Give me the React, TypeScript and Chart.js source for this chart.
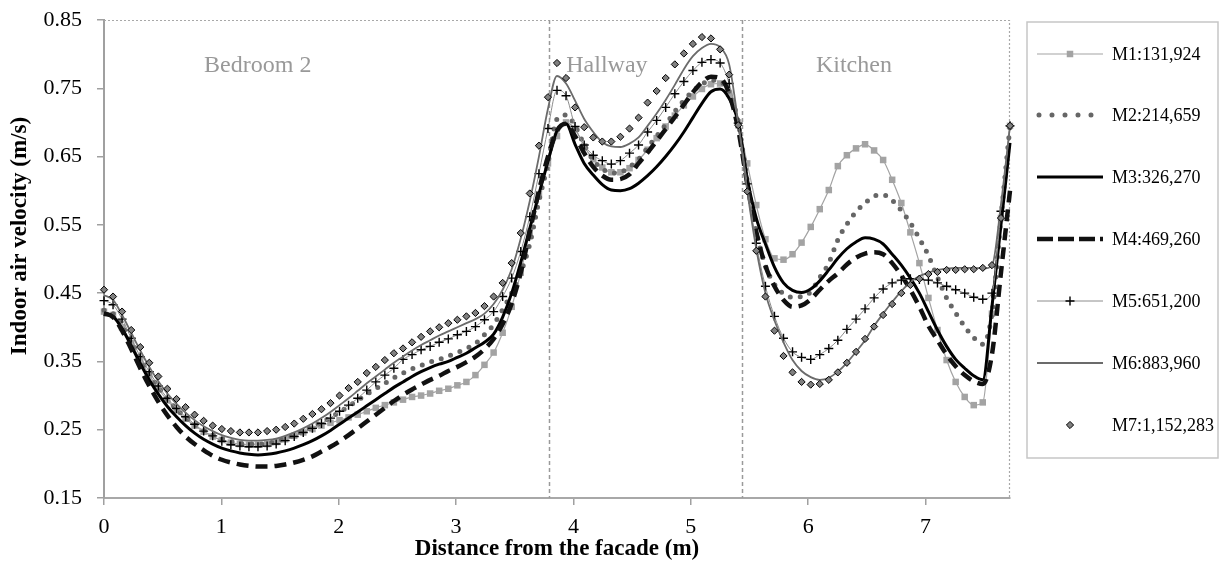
import React, { useEffect, useRef } from 'react';
import { Chart, registerables } from 'chart.js';

Chart.register(...registerables);

// Sampling positions along the section (m)
const distance = [
  0, 0.077, 0.154, 0.232, 0.309, 0.386, 0.463, 0.54, 0.618, 0.695,
  0.772, 0.849, 0.926, 1.004, 1.081, 1.158, 1.235, 1.312, 1.39, 1.467,
  1.544, 1.621, 1.698, 1.776, 1.853, 1.93, 2.007, 2.084, 2.162, 2.239,
  2.316, 2.393, 2.47, 2.548, 2.625, 2.702, 2.779, 2.856, 2.934, 3.011,
  3.088, 3.165, 3.242, 3.32, 3.397, 3.474, 3.551, 3.628, 3.706, 3.783,
  3.86, 3.937, 4.014, 4.092, 4.169, 4.246, 4.323, 4.4, 4.478, 4.555,
  4.632, 4.709, 4.786, 4.864, 4.941, 5.018, 5.095, 5.172, 5.25, 5.327,
  5.404, 5.481, 5.558, 5.636, 5.713, 5.79, 5.867, 5.944, 6.022, 6.099,
  6.176, 6.253, 6.33, 6.408, 6.485, 6.562, 6.639, 6.716, 6.794, 6.871,
  6.948, 7.025, 7.102, 7.18, 7.257, 7.334, 7.411, 7.488, 7.566, 7.643,
  7.72,
];

const m1 = [
  0.423, 0.418, 0.4, 0.377, 0.352, 0.33, 0.31, 0.293, 0.278, 0.266,
  0.256, 0.247, 0.24, 0.235, 0.231, 0.229, 0.228, 0.228, 0.229, 0.232,
  0.236, 0.241, 0.246, 0.251, 0.256, 0.26, 0.264, 0.268, 0.272, 0.277,
  0.282, 0.286, 0.29, 0.294, 0.298, 0.3, 0.303, 0.307, 0.31, 0.315,
  0.32, 0.33, 0.345, 0.363, 0.392, 0.43, 0.48, 0.54, 0.595, 0.64,
  0.68, 0.7, 0.69, 0.665, 0.646, 0.634, 0.627, 0.627, 0.633, 0.645,
  0.66, 0.677, 0.694, 0.71, 0.725, 0.738, 0.749, 0.756, 0.757, 0.742,
  0.7, 0.64, 0.579, 0.529, 0.501, 0.499, 0.507, 0.524, 0.547, 0.573,
  0.601, 0.636, 0.652, 0.662, 0.668, 0.659, 0.645, 0.616, 0.582, 0.539,
  0.494, 0.443, 0.396, 0.352, 0.32, 0.298, 0.286, 0.29, 0.42, 0.56,
  0.695,
];

const m2 = [
  0.425, 0.42, 0.402, 0.379, 0.354, 0.332, 0.312, 0.295, 0.28, 0.268,
  0.258, 0.249, 0.242, 0.237, 0.233, 0.23, 0.229, 0.229, 0.23, 0.233,
  0.237, 0.242, 0.248, 0.254, 0.261, 0.268, 0.276, 0.284, 0.293, 0.302,
  0.31, 0.318, 0.326, 0.333, 0.339, 0.344, 0.349, 0.353, 0.358, 0.363,
  0.369, 0.376, 0.389, 0.404, 0.426, 0.45, 0.48, 0.522, 0.585, 0.64,
  0.705, 0.711, 0.695, 0.667, 0.645, 0.632, 0.626, 0.627, 0.635, 0.646,
  0.663, 0.68, 0.697, 0.716, 0.732, 0.746, 0.756, 0.762, 0.76, 0.745,
  0.7, 0.615, 0.54, 0.49, 0.463, 0.449, 0.444, 0.445, 0.452, 0.473,
  0.494, 0.528, 0.551, 0.569, 0.582, 0.592, 0.594, 0.586, 0.571, 0.553,
  0.53, 0.505, 0.473, 0.443, 0.421, 0.401, 0.385, 0.375, 0.42, 0.56,
  0.695,
];

const m3 = [
  0.421, 0.416, 0.398, 0.373, 0.347, 0.323, 0.302, 0.284, 0.269, 0.256,
  0.245, 0.236, 0.229, 0.223, 0.219, 0.216, 0.214, 0.213, 0.214, 0.216,
  0.219, 0.223, 0.228, 0.234, 0.241, 0.249, 0.258, 0.267, 0.276, 0.285,
  0.294, 0.303, 0.312, 0.32, 0.328, 0.335, 0.341, 0.346, 0.35, 0.356,
  0.362, 0.37, 0.378, 0.39, 0.415, 0.45, 0.495, 0.545, 0.595, 0.643,
  0.688, 0.698, 0.668, 0.64, 0.623, 0.609, 0.601, 0.6, 0.603, 0.611,
  0.622, 0.635, 0.65, 0.667, 0.686, 0.707, 0.728, 0.745, 0.749, 0.735,
  0.7, 0.618, 0.56, 0.522, 0.488, 0.465, 0.454, 0.451, 0.456, 0.468,
  0.484, 0.501, 0.515, 0.525, 0.531, 0.529, 0.522, 0.507, 0.491, 0.472,
  0.45, 0.423, 0.396, 0.372, 0.353, 0.34, 0.329, 0.323, 0.43, 0.55,
  0.67,
];

const m4 = [
  0.42, 0.415, 0.395, 0.368, 0.34, 0.314, 0.291, 0.271, 0.254, 0.24,
  0.229, 0.22, 0.212, 0.206, 0.202, 0.199, 0.197, 0.196, 0.196, 0.197,
  0.199, 0.202, 0.206, 0.211, 0.218, 0.225, 0.233, 0.242, 0.252, 0.262,
  0.272, 0.282, 0.292, 0.301, 0.309, 0.316, 0.323, 0.329, 0.336, 0.342,
  0.349, 0.357, 0.368, 0.383, 0.405, 0.435, 0.48, 0.54, 0.6, 0.65,
  0.688, 0.698, 0.68, 0.655, 0.635, 0.622, 0.616, 0.617, 0.624, 0.64,
  0.656, 0.673, 0.69, 0.708, 0.726, 0.744, 0.759, 0.767, 0.765, 0.742,
  0.69, 0.61, 0.54, 0.49, 0.46, 0.44, 0.43, 0.432, 0.441, 0.455,
  0.468, 0.479, 0.492, 0.502, 0.508, 0.51, 0.507, 0.494, 0.476, 0.455,
  0.43, 0.402, 0.381, 0.36, 0.343, 0.33, 0.321, 0.317, 0.36, 0.48,
  0.6,
];

const m5 = [
  0.439, 0.433, 0.412, 0.384, 0.357, 0.335, 0.314, 0.296, 0.281, 0.269,
  0.258, 0.248, 0.241, 0.233, 0.228, 0.226, 0.225, 0.225, 0.226, 0.229,
  0.234, 0.24, 0.246, 0.252, 0.259, 0.267, 0.277, 0.286, 0.296, 0.308,
  0.32, 0.33, 0.34, 0.353, 0.36, 0.367, 0.372, 0.378, 0.383, 0.389,
  0.394, 0.401, 0.411, 0.423, 0.445, 0.472, 0.511, 0.562, 0.625, 0.691,
  0.747, 0.739, 0.694, 0.667, 0.652, 0.644, 0.639, 0.644, 0.655, 0.667,
  0.686, 0.703, 0.722, 0.742, 0.76, 0.776, 0.788, 0.792, 0.787, 0.757,
  0.699, 0.61, 0.523, 0.46, 0.416, 0.384, 0.364, 0.356, 0.353, 0.36,
  0.369, 0.381, 0.397, 0.412, 0.427, 0.443, 0.456, 0.465, 0.469, 0.471,
  0.47, 0.469, 0.465, 0.46, 0.455, 0.45, 0.444, 0.441, 0.45, 0.57,
  0.695,
];

const m6 = [
  0.447, 0.44, 0.418, 0.392, 0.366, 0.342, 0.321, 0.303, 0.288, 0.275,
  0.264, 0.255, 0.248, 0.242, 0.238, 0.235, 0.234, 0.234, 0.235, 0.237,
  0.241, 0.246, 0.252, 0.259, 0.267, 0.276, 0.286, 0.296, 0.307, 0.318,
  0.328, 0.338, 0.348, 0.357, 0.366, 0.374, 0.381, 0.388, 0.394, 0.4,
  0.406, 0.412, 0.42, 0.434, 0.455, 0.485, 0.53, 0.585, 0.65, 0.72,
  0.768, 0.757, 0.732, 0.705, 0.686, 0.671, 0.665, 0.664, 0.669, 0.678,
  0.695, 0.713, 0.733, 0.755, 0.778, 0.797, 0.809, 0.815, 0.81, 0.785,
  0.7, 0.6, 0.515, 0.45, 0.41, 0.378, 0.352, 0.336, 0.327, 0.323,
  0.326, 0.335, 0.348, 0.364, 0.381, 0.402, 0.42, 0.437, 0.453, 0.466,
  0.475, 0.48, 0.484, 0.486, 0.487, 0.487, 0.487, 0.486, 0.49, 0.58,
  0.695,
];

const m7 = [
  0.455, 0.445, 0.423, 0.396, 0.371, 0.348, 0.328, 0.31, 0.295, 0.283,
  0.272, 0.263, 0.256, 0.251, 0.248, 0.246, 0.246, 0.246, 0.248, 0.25,
  0.254, 0.259, 0.266, 0.273, 0.28, 0.289, 0.3, 0.311, 0.32, 0.333,
  0.342, 0.352, 0.362, 0.369, 0.378, 0.386, 0.394, 0.4, 0.406, 0.411,
  0.416, 0.421, 0.431, 0.445, 0.465, 0.494, 0.538, 0.596, 0.666, 0.737,
  0.787, 0.765, 0.722, 0.693, 0.678, 0.672, 0.672, 0.679, 0.691, 0.707,
  0.729, 0.746, 0.765, 0.785, 0.801, 0.815, 0.825, 0.823, 0.807, 0.77,
  0.696, 0.599, 0.512, 0.445, 0.395, 0.358, 0.334, 0.32, 0.316, 0.317,
  0.323, 0.334, 0.348, 0.364, 0.383, 0.401, 0.418, 0.434, 0.45, 0.462,
  0.471, 0.478, 0.481, 0.484, 0.484, 0.485, 0.485, 0.487, 0.491, 0.56,
  0.695,
];

const seriesNames = [
  'M1:131,924',
  'M2:214,659',
  'M3:326,270',
  'M4:469,260',
  'M5:651,200',
  'M6:883,960',
  'M7:1,152,283',
];

const xTickValues = [0, 1, 2, 3, 4, 5, 6, 7];
const roomNames = ['Bedroom 2', 'Hallway', 'Kitchen'];
const roomCenters = [1.31, 4.285, 6.39];
const roomDividers = [3.79, 5.44];

const X_TITLE = 'Distance from the facade (m)';
const Y_TITLE = 'Indoor air velocity (m/s)';

const SERIF = '"Liberation Serif", "Times New Roman", Times, serif';

type Style = {
  color: string;
  width: number;
  dash: number[];
  legendDash?: number[];
  cap: CanvasLineCap;
  showLine: boolean;
  marker: 'none' | 'rect' | 'cross' | 'diamond';
  markerFill: string;
  markerStroke: string;
  markerRadius: number;
  markerStrokeWidth: number;
};

const styles: Style[] = [
  { color: '#a3a3a3', width: 1.2, dash: [], cap: 'butt', showLine: true, marker: 'rect', markerFill: '#a3a3a3', markerStroke: '#a3a3a3', markerRadius: 4.6, markerStrokeWidth: 0 },
  { color: '#666666', width: 5, dash: [0, 10], legendDash: [0, 13], cap: 'round', showLine: true, marker: 'none', markerFill: '', markerStroke: '', markerRadius: 0, markerStrokeWidth: 0 },
  { color: '#000000', width: 3, dash: [], cap: 'butt', showLine: true, marker: 'none', markerFill: '', markerStroke: '', markerRadius: 0, markerStrokeWidth: 0 },
  { color: '#111111', width: 4.5, dash: [12, 7], legendDash: [16, 5], cap: 'butt', showLine: true, marker: 'none', markerFill: '', markerStroke: '', markerRadius: 0, markerStrokeWidth: 0 },
  { color: '#8c8c8c', width: 1, dash: [], cap: 'butt', showLine: true, marker: 'cross', markerFill: '#000', markerStroke: '#000', markerRadius: 4.5, markerStrokeWidth: 1.4 },
  { color: '#6b6b6b', width: 1.8, dash: [], cap: 'butt', showLine: true, marker: 'none', markerFill: '', markerStroke: '', markerRadius: 0, markerStrokeWidth: 0 },
  { color: '#000000', width: 0, dash: [], cap: 'butt', showLine: false, marker: 'diamond', markerFill: '#808080', markerStroke: '#000000', markerRadius: 3.6, markerStrokeWidth: 1 },
];

const seriesValues = [m1, m2, m3, m4, m5, m6, m7];

function drawMarker(ctx: CanvasRenderingContext2D, s: Style, x: number, y: number) {
  if (s.marker === 'none') return;
  ctx.save();
  ctx.setLineDash([]);
  ctx.fillStyle = s.markerFill;
  ctx.strokeStyle = s.markerStroke;
  ctx.lineWidth = s.markerStrokeWidth;
  const r = s.markerRadius;
  if (s.marker === 'rect') {
    const h = r * Math.SQRT1_2;
    ctx.fillRect(x - h, y - h, 2 * h, 2 * h);
  } else if (s.marker === 'cross') {
    ctx.beginPath();
    ctx.moveTo(x - r, y);
    ctx.lineTo(x + r, y);
    ctx.moveTo(x, y - r);
    ctx.lineTo(x, y + r);
    ctx.stroke();
  } else if (s.marker === 'diamond') {
    ctx.beginPath();
    ctx.moveTo(x, y - r);
    ctx.lineTo(x + r, y);
    ctx.lineTo(x, y + r);
    ctx.lineTo(x - r, y);
    ctx.closePath();
    ctx.fill();
    ctx.stroke();
  }
  ctx.restore();
}

const decorPlugin = {
  id: 'decor',
  beforeDatasetsDraw(chart: any) {
    const { ctx, chartArea: a, scales } = chart;
    const x = scales.x;
    ctx.save();
    // dotted top and right frame
    ctx.strokeStyle = '#a8a8a8';
    ctx.lineWidth = 1.2;
    ctx.setLineDash([2, 2]);
    ctx.beginPath();
    ctx.moveTo(a.left, a.top + 0.5);
    ctx.lineTo(a.right - 0.5, a.top + 0.5);
    ctx.lineTo(a.right - 0.5, a.bottom);
    ctx.stroke();
    // room dividers
    ctx.strokeStyle = '#9a9a9a';
    ctx.lineWidth = 1.5;
    ctx.setLineDash([4, 3]);
    for (const d of roomDividers) {
      const px = Math.round(x.getPixelForValue(d)) + 0.5;
      ctx.beginPath();
      ctx.moveTo(px, a.top);
      ctx.lineTo(px, a.bottom);
      ctx.stroke();
    }
    ctx.setLineDash([]);
    // room names
    ctx.fillStyle = '#999999';
    ctx.font = `24px ${SERIF}`;
    ctx.textAlign = 'center';
    ctx.textBaseline = 'alphabetic';
    roomNames.forEach((name, i) => {
      ctx.fillText(name, x.getPixelForValue(roomCenters[i]), a.top + 52);
    });
    ctx.restore();
  },
  afterDraw(chart: any) {
    const { ctx, chartArea: a } = chart;
    ctx.save();
    // axis titles
    ctx.fillStyle = '#000';
    ctx.font = `bold 23px ${SERIF}`;
    ctx.textAlign = 'center';
    ctx.textBaseline = 'middle';
    ctx.fillText(X_TITLE, (a.left + a.right) / 2, 549);
    ctx.save();
    ctx.translate(20, 236);
    ctx.rotate(-Math.PI / 2);
    ctx.fillText(Y_TITLE, 0, 0);
    ctx.restore();

    // legend box
    const box = { left: 1027, top: 22, right: 1218, bottom: 458 };
    ctx.strokeStyle = '#c6c6c6';
    ctx.lineWidth = 1.5;
    ctx.strokeRect(box.left, box.top, box.right - box.left, box.bottom - box.top);
    const x1 = 1037;
    const x2 = 1103;
    ctx.font = `18px ${SERIF}`;
    ctx.textAlign = 'left';
    ctx.textBaseline = 'middle';
    seriesNames.forEach((name, i) => {
      const s = styles[i];
      const cy = Math.round(53.5 + i * 61.9);
      if (s.showLine) {
        ctx.save();
        ctx.strokeStyle = s.color;
        ctx.lineWidth = s.width;
        ctx.lineCap = s.cap;
        ctx.setLineDash(s.legendDash || s.dash);
        ctx.beginPath();
        ctx.moveTo(x1 + (s.cap === 'round' ? 2 : 0), cy);
        ctx.lineTo(x2, cy);
        ctx.stroke();
        ctx.restore();
      }
      drawMarker(ctx, s, (x1 + x2) / 2, cy);
      ctx.fillStyle = '#000';
      ctx.fillText(name, 1112, cy + 1);
    });
    ctx.restore();
  },
};

export default function App() {
  const canvasRef = useRef<HTMLCanvasElement | null>(null);

  useEffect(() => {
    if (!canvasRef.current) return;
    const datasets = seriesValues.map((vals, i) => {
      const s = styles[i];
      const pointStyle = s.marker === 'rect' ? 'rect' : s.marker === 'cross' ? 'cross' : s.marker === 'diamond' ? 'rectRot' : 'circle';
      return {
        label: seriesNames[i],
        data: vals.map((v, k) => ({ x: distance[k], y: v })),
        borderColor: s.color,
        backgroundColor: s.color,
        borderWidth: s.width,
        borderDash: s.dash,
        borderCapStyle: s.cap,
        showLine: s.showLine,
        cubicInterpolationMode: 'monotone' as const,
        pointStyle,
        pointRadius: s.marker === 'none' ? 0 : s.markerRadius,
        pointBackgroundColor: s.markerFill || s.color,
        pointBorderColor: s.markerStroke || s.color,
        pointBorderWidth: s.markerStrokeWidth,
        pointHoverRadius: 0,
        order: 7 - i,
        clip: false as any,
        fill: false,
      };
    });

    const chart = new Chart(canvasRef.current, {
      type: 'line',
      data: { datasets },
      options: {
        animation: false,
        responsive: false,
        devicePixelRatio: 1,
        events: [],
        layout: { padding: { left: 0, right: 213, top: 20, bottom: 0 } },
        plugins: {
          legend: { display: false },
          tooltip: { enabled: false },
          title: { display: false },
        },
        scales: {
          x: {
            type: 'linear',
            min: 0,
            max: 7.72,
            afterBuildTicks: (scale: any) => {
              scale.ticks = xTickValues.map((v) => ({ value: v }));
            },
            afterFit: (scale: any) => {
              scale.height = 63;
            },
            ticks: {
              color: '#000',
              font: { family: SERIF, size: 22 },
              padding: 9,
              maxRotation: 0,
              autoSkip: false,
              callback: (v: any) => String(v),
            },
            grid: { drawOnChartArea: false, drawTicks: true, tickLength: 7, color: '#a0a0a0', lineWidth: 1.5 },
            border: { color: '#a8a8a8', width: 2 },
          },
          y: {
            type: 'linear',
            min: 0.15,
            max: 0.85,
            afterFit: (scale: any) => {
              scale.width = 104;
            },
            ticks: {
              stepSize: 0.1,
              color: '#000',
              font: { family: SERIF, size: 22, lineHeight: 0.4 },
              padding: 15,
              callback: (v: any) => Number(v).toFixed(2),
            },
            grid: { drawOnChartArea: false, drawTicks: true, tickLength: 7, color: '#a0a0a0', lineWidth: 1.5 },
            border: { color: '#a0a0a0', width: 2 },
          },
        },
      },
      plugins: [decorPlugin],
    } as any);

    return () => chart.destroy();
  }, []);

  return (
    <div style={{ position: 'fixed', left: 0, top: 0, width: 1223, height: 561, background: '#ffffff' }}>
      <canvas ref={canvasRef} width={1223} height={561} style={{ display: 'block', width: 1223, height: 561 }} />
    </div>
  );
}
